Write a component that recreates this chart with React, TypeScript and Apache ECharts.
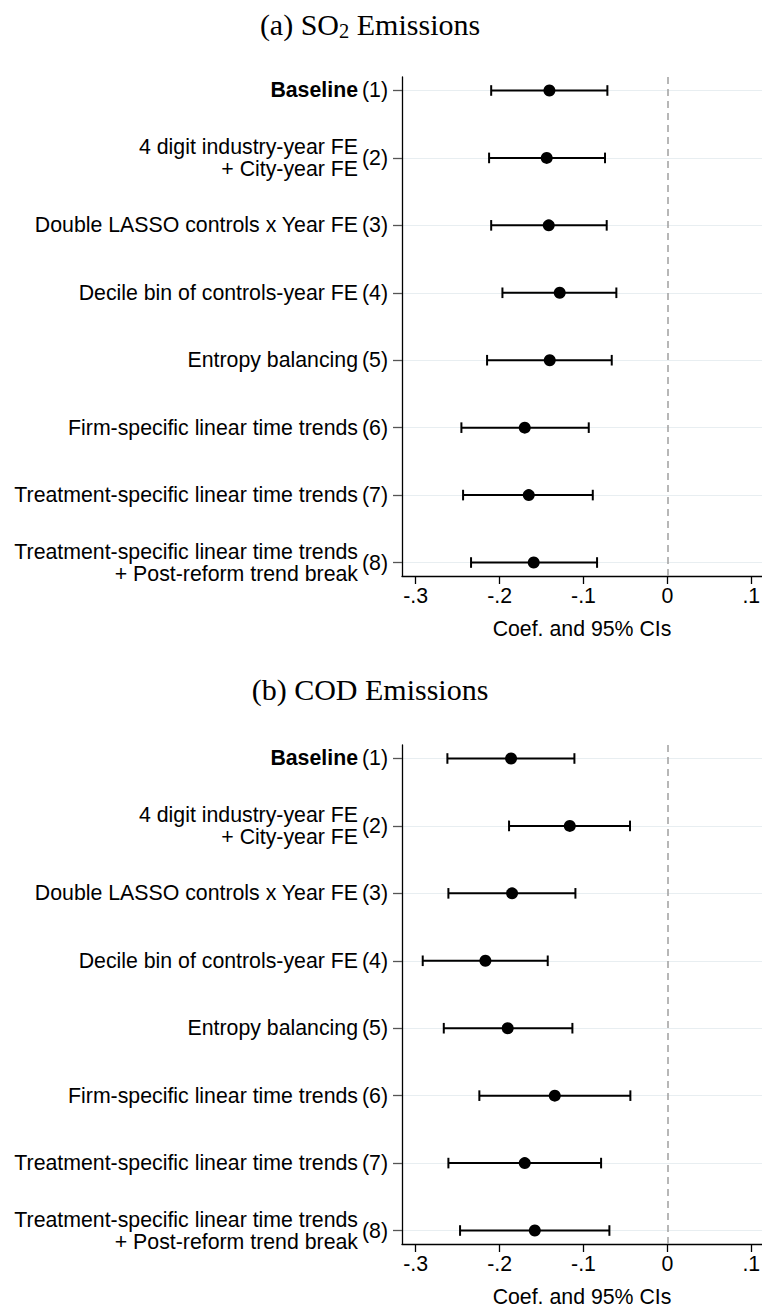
import React, { useEffect, useRef } from "react";
import * as echarts from "echarts";

// ---- data ----
const rowLabels = [
  "Baseline",
  "4 digit industry-year FE\n+ City-year FE",
  "Double LASSO controls x Year FE",
  "Decile bin of controls-year FE",
  "Entropy balancing",
  "Firm-specific linear time trends",
  "Treatment-specific linear time trends",
  "Treatment-specific linear time trends\n+ Post-reform trend break",
];
const rowNumbers = [1, 2, 3, 4, 5, 6, 7, 8];

const so2Coef = [-0.1406, -0.1438, -0.1414, -0.1283, -0.1402, -0.170, -0.1652, -0.1593];
const so2Lo = [-0.210, -0.2125, -0.210, -0.1966, -0.2149, -0.2455, -0.2435, -0.234];
const so2Hi = [-0.0715, -0.0743, -0.0723, -0.0608, -0.0663, -0.0937, -0.0889, -0.0838];

const codCoef = [-0.1863, -0.1163, -0.1851, -0.2169, -0.1903, -0.1342, -0.170, -0.158];
const codLo = [-0.2622, -0.1887, -0.261, -0.2916, -0.2665, -0.2241, -0.261, -0.2471];
const codHi = [-0.1108, -0.0445, -0.1096, -0.1426, -0.1132, -0.0441, -0.079, -0.0691];

const xTicks = [-0.3, -0.2, -0.1, 0, 0.1];
const xName = "Coef. and 95% CIs";
const titleA = "(a) SO{sub|2} Emissions";
const titleB = "(b) COD Emissions";

const SANS = "Liberation Sans, Arial, sans-serif";
const SERIF = "Liberation Serif, Times New Roman, serif";
const FS = 21.3;

function fmtTick(v: number) {
  if (Math.abs(v) < 1e-9) return "0";
  const s = Math.abs(v).toFixed(1).replace(/^0/, "");
  return (v < 0 ? "-" : "") + s;
}

export default function App() {
  const ref = useRef<HTMLDivElement>(null);
  useEffect(() => {
    if (!ref.current) return;
    const chart = echarts.init(ref.current, undefined, { renderer: "svg" });

    const gridW = 360;
    const grids = [
      { left: 402, top: 77, width: gridW, height: 499 },
      { left: 402, top: 745, width: gridW, height: 499 },
    ];
    const XMIN = -0.3163;
    const XMAX = 0.1128;

    const xAxes = grids.map((_, gi) => ({
      type: "value",
      gridIndex: gi,
      min: XMIN,
      max: XMAX,
      name: xName,
      nameLocation: "middle",
      nameGap: 42,
      nameTextStyle: { fontFamily: SANS, fontSize: FS, color: "#000" },
      axisLine: { show: true, onZero: false, lineStyle: { color: "#000", width: 1.3 } },
      axisTick: { show: true, customValues: xTicks, length: 8, lineStyle: { color: "#000", width: 1.3 } },
      axisLabel: {
        customValues: xTicks,
        formatter: (v: number) => fmtTick(v),
        margin: 9,
        fontFamily: SANS,
        fontSize: FS,
        color: "#000",
      },
      splitLine: { show: false },
    }));

    const yAxes: any[] = [];
    grids.forEach((_, gi) => {
      yAxes.push({
        type: "value",
        gridIndex: gi,
        min: 0.8,
        max: 8.2,
        inverse: true,
        position: "left",
        axisLine: { show: true, onZero: false, lineStyle: { color: "#000", width: 1.3 } },
        axisTick: { show: true, customValues: rowNumbers, length: 9, lineStyle: { color: "#555", width: 1.3 } },
        axisLabel: {
          customValues: rowNumbers,
          formatter: (v: number) => "(" + Math.round(v) + ")",
          margin: 14,
          fontFamily: SANS,
          fontSize: FS,
          color: "#000",
        },
        splitLine: { show: true, lineStyle: { color: "#e8eef1", width: 1.2 } },
      });
      yAxes.push({
        type: "value",
        gridIndex: gi,
        min: 0.8,
        max: 8.2,
        inverse: true,
        position: "right",
        offset: -gridW,
        axisLine: { show: false },
        axisTick: { show: false },
        splitLine: { show: false },
        axisLabel: {
          inside: true,
          customValues: rowNumbers,
          formatter: (v: number) => {
            const i = Math.round(v) - 1;
            const t = rowLabels[i];
            return i === 0 ? "{b|" + t + "}" : t;
          },
          margin: 44,
          fontFamily: SANS,
          fontSize: FS,
          lineHeight: 22,
          color: "#000",
          rich: {
            b: { fontFamily: SANS, fontSize: FS, fontWeight: "bold", color: "#000" },
          },
        },
      });
    });

    const panels = [
      { coef: so2Coef, lo: so2Lo, hi: so2Hi },
      { coef: codCoef, lo: codLo, hi: codHi },
    ];

    const series: any[] = [];
    panels.forEach((p, gi) => {
      series.push({
        type: "custom",
        xAxisIndex: gi,
        yAxisIndex: gi * 2,
        encode: { x: [1, 2], y: 0 },
        data: rowNumbers.map((r, i) => [r, p.lo[i], p.hi[i]]),
        renderItem: (params: any, api: any) => {
          const y = api.value(0);
          const a = api.coord([api.value(1), y]);
          const b = api.coord([api.value(2), y]);
          const h = 5.3;
          const style = { stroke: "#000", lineWidth: 2, fill: "none" };
          return {
            type: "group",
            children: [
              { type: "line", shape: { x1: a[0], y1: a[1], x2: b[0], y2: b[1] }, style },
              { type: "line", shape: { x1: a[0], y1: a[1] - h, x2: a[0], y2: a[1] + h }, style },
              { type: "line", shape: { x1: b[0], y1: b[1] - h, x2: b[0], y2: b[1] + h }, style },
            ],
          };
        },
        z: 3,
      });
      series.push({
        type: "scatter",
        xAxisIndex: gi,
        yAxisIndex: gi * 2,
        symbol: "circle",
        symbolSize: 12,
        itemStyle: { color: "#000", opacity: 1 },
        data: rowNumbers.map((r, i) => [p.coef[i], r]),
        z: 4,
        markLine: {
          silent: true,
          symbol: ["none", "none"],
          label: { show: false },
          lineStyle: { color: "#a0a0a0", type: [7, 5], width: 1.5, opacity: 1 },
          data: [{ xAxis: 0 }],
          z: 1,
        },
      });
    });

    const titleStyle = {
      fontFamily: SERIF,
      fontSize: 30,
      fontWeight: "normal",
      color: "#000",
      lineHeight: 34,
      rich: {
        sub: { fontFamily: SERIF, fontSize: 20.5, lineHeight: 28, verticalAlign: "bottom", color: "#000" },
      },
    };

    chart.setOption({
      animation: false,
      backgroundColor: "#fff",
      title: [
        { text: titleA, left: 365, top: 2, textAlign: "center", textStyle: titleStyle },
        { text: titleB, left: 365, top: 667, textAlign: "center", textStyle: titleStyle },
      ],
      grid: grids.map((g) => ({ ...g, containLabel: false, outerBoundsMode: "none" })),
      xAxis: xAxes,
      yAxis: yAxes,
      series,
    });

    return () => chart.dispose();
  }, []);

  return (
    <div
      ref={ref}
      style={{ position: "absolute", left: 0, top: 0, width: 762, height: 1311 }}
    />
  );
}
